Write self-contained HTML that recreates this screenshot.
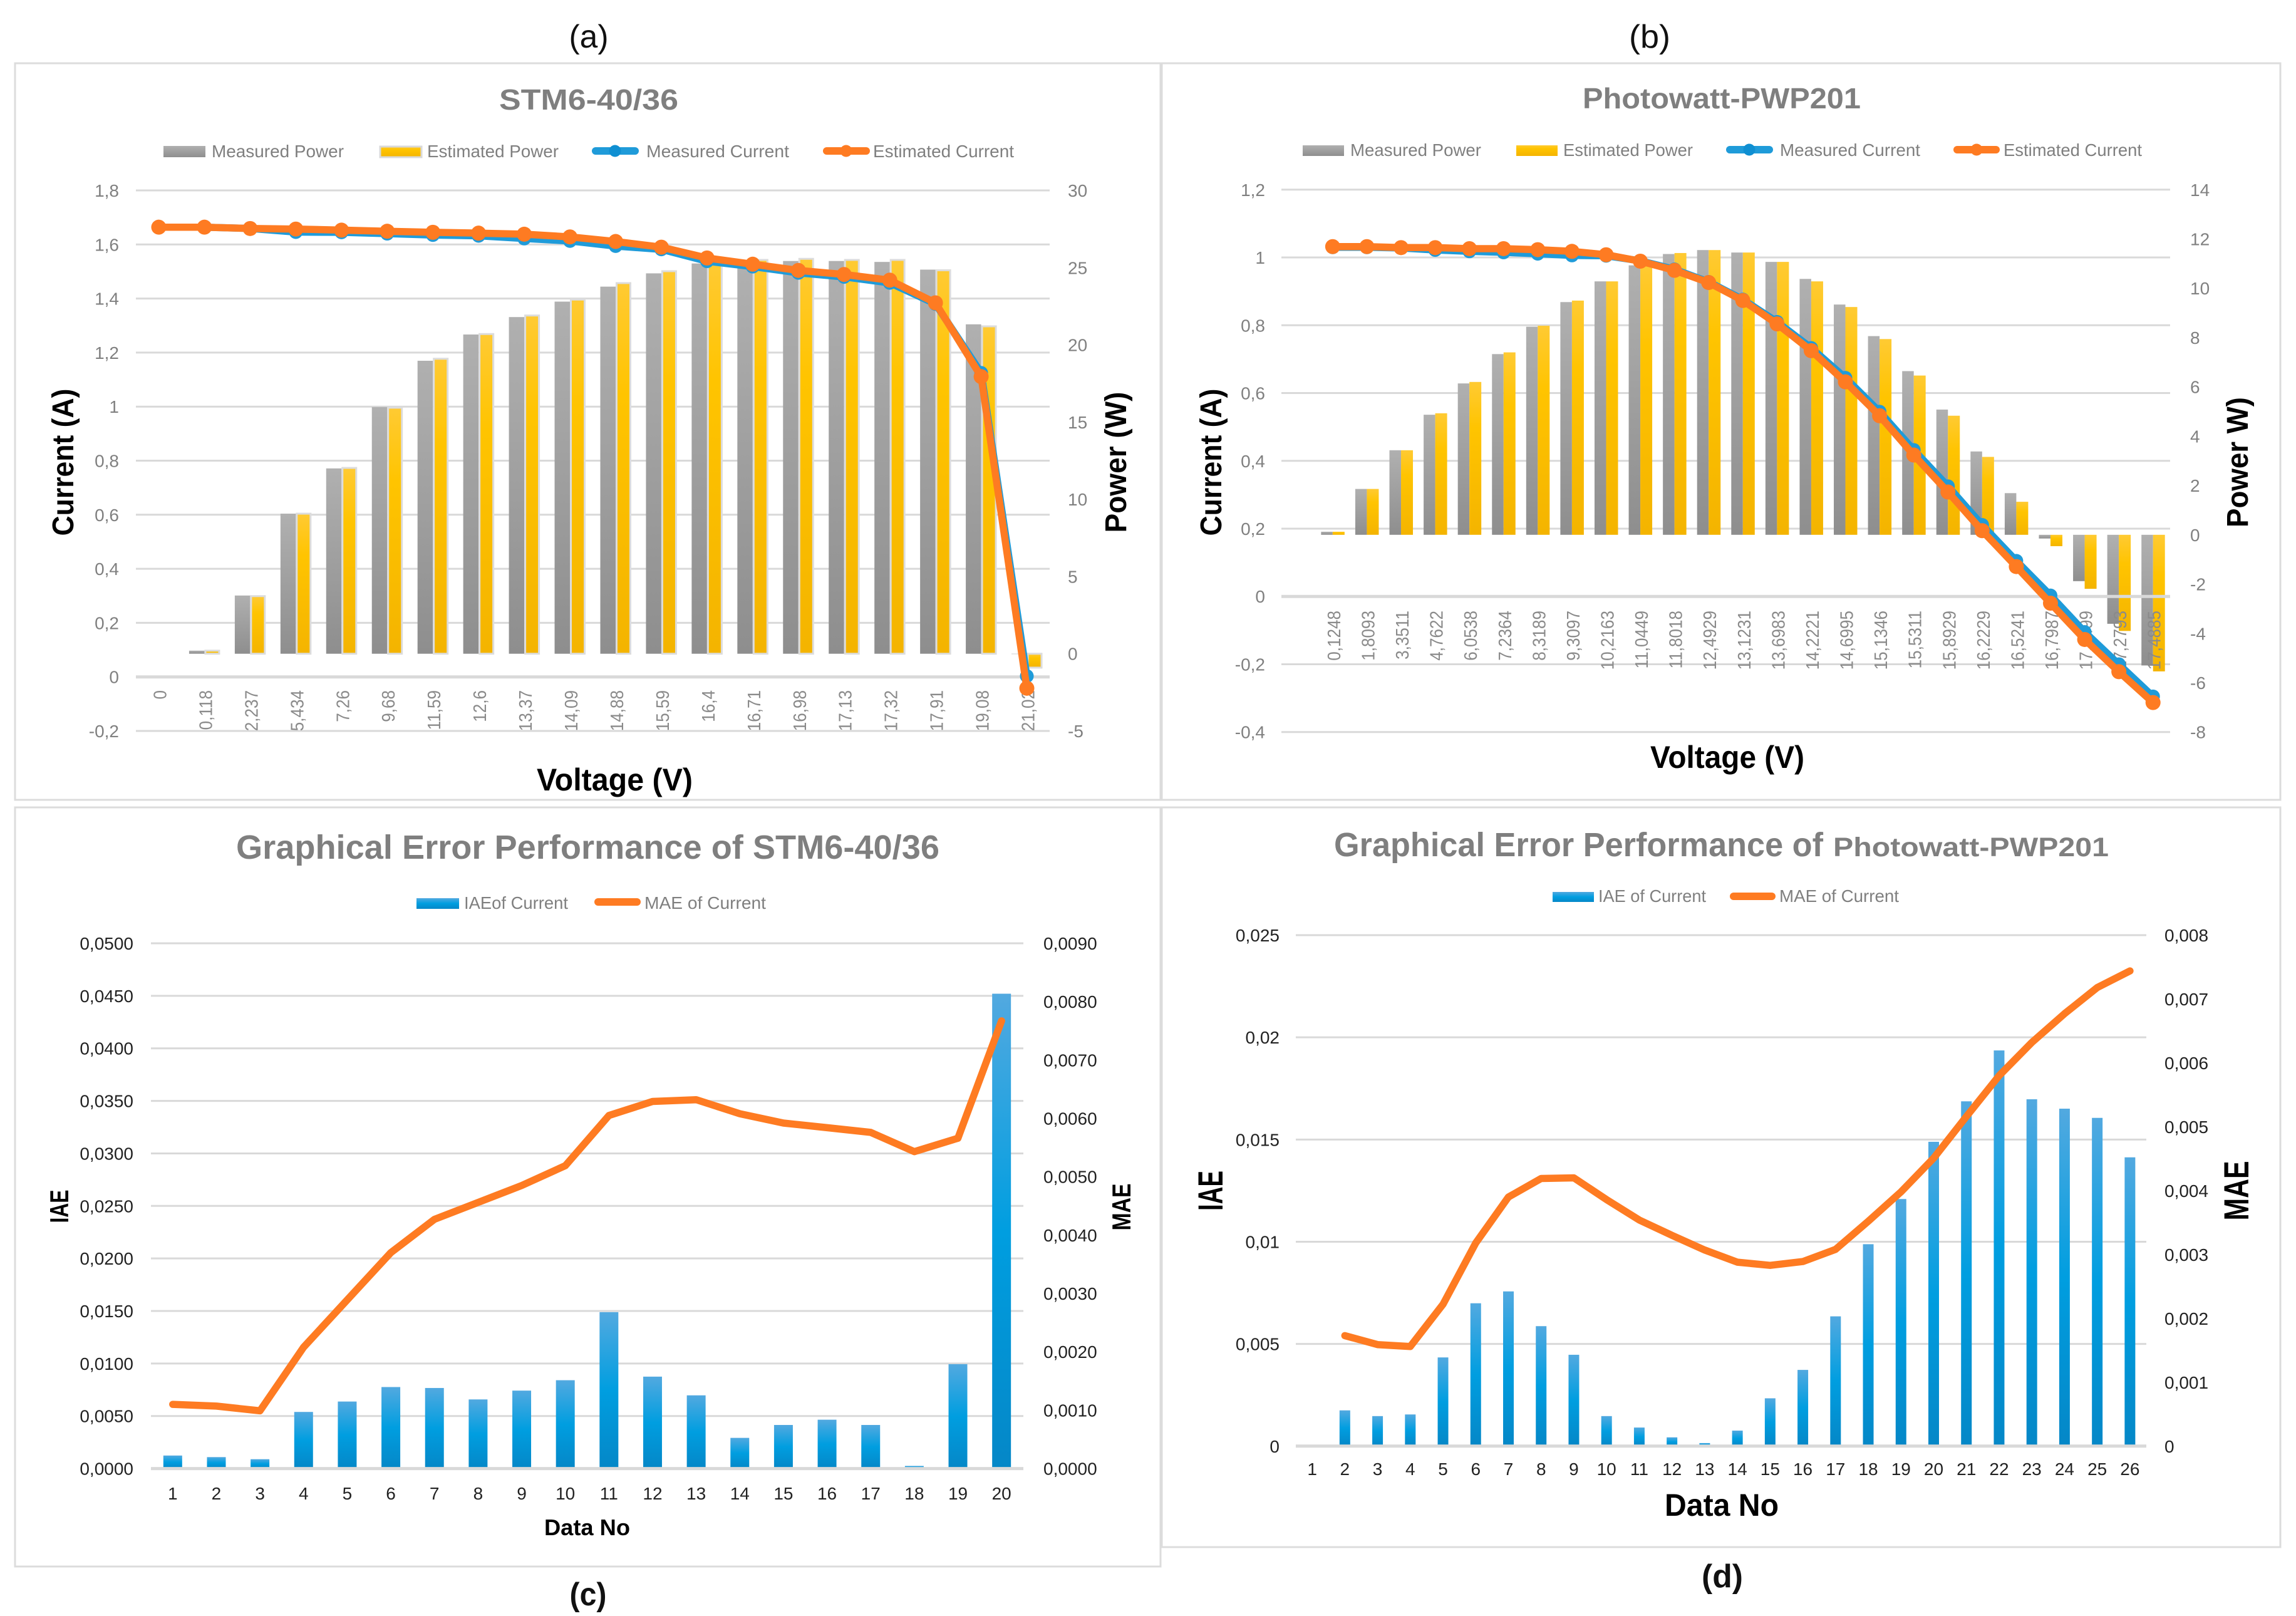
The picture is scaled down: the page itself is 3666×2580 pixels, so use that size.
<!DOCTYPE html>
<html lang="en">
<head>
<meta charset="utf-8">
<title>PV model error charts</title>
<style>
html,body{margin:0;padding:0;background:#fff;}
svg{display:block;font-family:"Liberation Sans",sans-serif;}
</style>
</head>
<body>
<svg id="figure" xmlns="http://www.w3.org/2000/svg" width="3666" height="2580" viewBox="0 0 3666 2580">
<defs>
  <linearGradient id="gGrey" x1="0" y1="0" x2="0" y2="1"><stop offset="0" stop-color="#b0b0b0"/><stop offset="1" stop-color="#8e8e8e"/></linearGradient>
  <linearGradient id="gYellow" x1="0" y1="0" x2="0" y2="1"><stop offset="0" stop-color="#ffca33"/><stop offset="0.3" stop-color="#ffc400"/><stop offset="1" stop-color="#f4b400"/></linearGradient>
  <linearGradient id="gBlue" x1="0" y1="0" x2="0" y2="1"><stop offset="0" stop-color="#52a9e0"/><stop offset="0.5" stop-color="#009ee0"/><stop offset="1" stop-color="#0587c7"/></linearGradient>
  <clipPath id="clipA"><rect x="217" y="1090" width="1459" height="78"/></clipPath>
</defs>
<rect width="3666" height="2580" fill="#fff"/>

<g id="panel-a">
  <rect x="24" y="101" width="1829" height="1176" fill="#fff" stroke="#dcdcdc" stroke-width="3"/>
</g>
<g id="panel-b">
  <rect x="1855" y="101" width="1786" height="1176" fill="#fff" stroke="#dcdcdc" stroke-width="3"/>
</g>
<g id="panel-c">
  <rect x="24" y="1289" width="1829" height="1212" fill="#fff" stroke="#dcdcdc" stroke-width="3"/>
</g>
<g id="panel-d">
  <rect x="1855" y="1289" width="1786" height="1181" fill="#fff" stroke="#dcdcdc" stroke-width="3"/>
</g>

<!-- captions -->
<text x="940" y="76" font-size="52" text-anchor="middle" fill="#111" textLength="63" lengthAdjust="spacingAndGlyphs">(a)</text>
<text x="2634" y="76" font-size="52" text-anchor="middle" fill="#111" textLength="66" lengthAdjust="spacingAndGlyphs">(b)</text>
<text x="939" y="2563" font-size="52" font-weight="700" text-anchor="middle" fill="#111" textLength="59" lengthAdjust="spacingAndGlyphs">(c)</text>
<text x="2750" y="2534" font-size="52" font-weight="700" text-anchor="middle" fill="#111" textLength="66" lengthAdjust="spacingAndGlyphs">(d)</text>

<!-- titles -->
<text x="797" y="175" font-size="46" font-weight="700" fill="#7f7f7f" textLength="286" lengthAdjust="spacingAndGlyphs">STM6-40/36</text>
<text x="2527" y="173" font-size="46" font-weight="700" fill="#7f7f7f" textLength="444" lengthAdjust="spacingAndGlyphs">Photowatt-PWP201</text>
<text x="377" y="1371" font-size="54" font-weight="700" fill="#7f7f7f" textLength="1123" lengthAdjust="spacingAndGlyphs">Graphical Error Performance of STM6-40/36</text>
<text x="2130" y="1367" font-size="54" font-weight="700" fill="#7f7f7f" textLength="781" lengthAdjust="spacingAndGlyphs">Graphical Error Performance of</text>
<text x="2927" y="1367" font-size="43" font-weight="700" fill="#7f7f7f" textLength="440" lengthAdjust="spacingAndGlyphs">Photowatt-PWP201</text>

<!-- axis titles -->
<text transform="translate(117,738) rotate(-90)" font-size="48" font-weight="700" text-anchor="middle" fill="#000" textLength="235" lengthAdjust="spacingAndGlyphs">Current (A)</text>
<text transform="translate(1798,738) rotate(-90)" font-size="48" font-weight="700" text-anchor="middle" fill="#000" textLength="225" lengthAdjust="spacingAndGlyphs">Power (W)</text>
<text x="857" y="1262" font-size="50" font-weight="700" fill="#000" textLength="249" lengthAdjust="spacingAndGlyphs">Voltage (V)</text>
<text transform="translate(1950,738) rotate(-90)" font-size="48" font-weight="700" text-anchor="middle" fill="#000" textLength="235" lengthAdjust="spacingAndGlyphs">Current (A)</text>
<text transform="translate(3589,738) rotate(-90)" font-size="48" font-weight="700" text-anchor="middle" fill="#000" textLength="208" lengthAdjust="spacingAndGlyphs">Power W)</text>
<text x="2635" y="1226" font-size="50" font-weight="700" fill="#000" textLength="246" lengthAdjust="spacingAndGlyphs">Voltage (V)</text>
<text transform="translate(109,1926) rotate(-90)" font-size="42" font-weight="700" text-anchor="middle" fill="#000" textLength="53" lengthAdjust="spacingAndGlyphs">IAE</text>
<text transform="translate(1805,1927) rotate(-90)" font-size="42" font-weight="700" text-anchor="middle" fill="#000" textLength="75" lengthAdjust="spacingAndGlyphs">MAE</text>
<text x="869" y="2451" font-size="36" font-weight="700" fill="#000" textLength="137" lengthAdjust="spacingAndGlyphs">Data No</text>
<text transform="translate(1952,1901) rotate(-90)" font-size="56" font-weight="700" text-anchor="middle" fill="#000" textLength="64" lengthAdjust="spacingAndGlyphs">IAE</text>
<text transform="translate(3590,1901) rotate(-90)" font-size="56" font-weight="700" text-anchor="middle" fill="#000" textLength="95" lengthAdjust="spacingAndGlyphs">MAE</text>
<text x="2658" y="2420" font-size="50" font-weight="700" fill="#000" textLength="182" lengthAdjust="spacingAndGlyphs">Data No</text>

<!-- legend a -->
<g font-size="28" fill="#7f7f7f">
  <rect x="261" y="233" width="67" height="18" fill="url(#gGrey)"/>
  <text x="338" y="251" textLength="211" lengthAdjust="spacingAndGlyphs">Measured Power</text>
  <rect x="607" y="234" width="66" height="17" fill="url(#gYellow)" stroke="#d9d9d9" stroke-width="3"/>
  <text x="682" y="251" textLength="210" lengthAdjust="spacingAndGlyphs">Estimated Power</text>
  <line x1="951" y1="241" x2="1014" y2="241" stroke="#1f9bd9" stroke-width="12" stroke-linecap="round"/>
  <circle cx="982" cy="241" r="9.5" fill="#0f8fd2"/>
  <text x="1032" y="251" textLength="228" lengthAdjust="spacingAndGlyphs">Measured Current</text>
  <line x1="1320" y1="241" x2="1383" y2="241" stroke="#fe7b22" stroke-width="12" stroke-linecap="round"/>
  <circle cx="1351" cy="241" r="9.5" fill="#fe7b22"/>
  <text x="1394" y="251" textLength="225" lengthAdjust="spacingAndGlyphs">Estimated Current</text>
</g>
<!-- legend b -->
<g font-size="28" fill="#7f7f7f">
  <rect x="2080" y="232" width="66" height="17" fill="url(#gGrey)"/>
  <text x="2156" y="249" textLength="209" lengthAdjust="spacingAndGlyphs">Measured Power</text>
  <rect x="2421" y="232" width="66" height="17" fill="url(#gYellow)"/>
  <text x="2496" y="249" textLength="207" lengthAdjust="spacingAndGlyphs">Estimated Power</text>
  <line x1="2762" y1="239" x2="2825" y2="239" stroke="#1f9bd9" stroke-width="12" stroke-linecap="round"/>
  <circle cx="2793" cy="239" r="9.5" fill="#0f8fd2"/>
  <text x="2842" y="249" textLength="224" lengthAdjust="spacingAndGlyphs">Measured Current</text>
  <line x1="3125" y1="239" x2="3187" y2="239" stroke="#fe7b22" stroke-width="12" stroke-linecap="round"/>
  <circle cx="3156" cy="239" r="9.5" fill="#fe7b22"/>
  <text x="3199" y="249" textLength="221" lengthAdjust="spacingAndGlyphs">Estimated Current</text>
</g>
<!-- legend c -->
<g font-size="28" fill="#7f7f7f">
  <rect x="665" y="1434" width="68" height="17" fill="url(#gBlue)"/>
  <text x="741" y="1451" textLength="166" lengthAdjust="spacingAndGlyphs">IAEof Current</text>
  <line x1="955" y1="1440" x2="1017" y2="1440" stroke="#fe7b22" stroke-width="12" stroke-linecap="round"/>
  <text x="1029" y="1451" textLength="194" lengthAdjust="spacingAndGlyphs">MAE of Current</text>
</g>
<!-- legend d -->
<g font-size="28" fill="#7f7f7f">
  <rect x="2479" y="1424" width="66" height="16" fill="url(#gBlue)"/>
  <text x="2552" y="1440" textLength="172" lengthAdjust="spacingAndGlyphs">IAE of Current</text>
  <line x1="2768" y1="1431" x2="2829" y2="1431" stroke="#fe7b22" stroke-width="12" stroke-linecap="round"/>
  <text x="2841" y="1440" textLength="191" lengthAdjust="spacingAndGlyphs">MAE of Current</text>
</g>

<g id="plots"></g>
</svg>

<script>
// ---- Chart (a) STM6-40/36 ----
const aCategories = ['0','0,118','2,237','5,434','7,26','9,68','11,59','12,6','13,37','14,09','14,88','15,59','16,4','16,71','16,98','17,13','17,32','17,91','19,08','21,02'];
const aMeasuredPower = [0,0.2,3.77,9.07,12,15.97,18.97,20.67,21.8,22.8,23.77,24.63,25.27,25.07,25.43,25.43,25.37,24.87,21.33,-0.02];
const aEstimatedPower = [0,0.2,3.73,9.07,12.03,15.93,19.1,20.7,21.9,22.93,24,24.77,25.3,25.5,25.57,25.5,25.5,24.83,21.2,-0.9];
const aMeasuredCurrent = [1.664,1.664,1.659,1.646,1.645,1.64,1.635,1.632,1.622,1.613,1.594,1.582,1.538,1.518,1.495,1.48,1.458,1.38,1.125,0.003];
const aEstimatedCurrent = [1.664,1.664,1.659,1.657,1.653,1.649,1.645,1.642,1.638,1.628,1.611,1.59,1.55,1.527,1.504,1.489,1.468,1.384,1.111,-0.042];
const aLeftTicks = ['-0,2','0','0,2','0,4','0,6','0,8','1','1,2','1,4','1,6','1,8'];
const aRightTicks = ['-5','0','5','10','15','20','25','30'];

// ---- Chart (b) Photowatt-PWP201 ----
const bCategories = ['','0,1248','1,8093','3,3511','4,7622','6,0538','7,2364','8,3189','9,3097','10,2163','11,0449','11,8018','12,4929','13,1231','13,6983','14,2221','14,6995','15,1346','15,5311','15,8929','16,2229','16,5241','16,7987','17,0499','17,2793','17,4885'];
const bMeasuredPower = [null,0.125,1.86,3.43,4.87,6.14,7.33,8.44,9.44,10.28,10.93,11.39,11.55,11.45,11.07,10.38,9.34,8.06,6.64,5.08,3.38,1.69,-0.15,-1.88,-3.61,-5.3];
const bEstimatedPower = [null,0.125,1.86,3.43,4.93,6.2,7.4,8.48,9.5,10.28,10.93,11.43,11.55,11.45,11.07,10.28,9.24,7.94,6.46,4.83,3.16,1.34,-0.46,-2.19,-3.9,-5.54];
const bMeasuredCurrent = [null,1.03,1.03,1.028,1.022,1.018,1.015,1.011,1.006,1.005,0.99,0.965,0.928,0.876,0.81,0.733,0.645,0.545,0.432,0.325,0.211,0.105,0.003,-0.105,-0.2,-0.295];
const bEstimatedCurrent = [null,1.032,1.032,1.029,1.029,1.026,1.026,1.023,1.018,1.008,0.989,0.962,0.926,0.873,0.804,0.725,0.633,0.533,0.417,0.308,0.194,0.088,-0.02,-0.127,-0.222,-0.313];
const bLeftTicks = ['-0,4','-0,2','0','0,2','0,4','0,6','0,8','1','1,2'];
const bRightTicks = ['-8','-6','-4','-2','0','2','4','6','8','10','12','14'];

// ---- Chart (c) error of STM6-40/36 ----
const cCategories = ['1','2','3','4','5','6','7','8','9','10','11','12','13','14','15','16','17','18','19','20'];
const cIae = [0.00124,0.00109,0.00089,0.00539,0.00638,0.00776,0.00767,0.00658,0.00742,0.00841,0.01489,0.00875,0.00697,0.00292,0.00415,0.00465,0.00415,0.00025,0.00994,0.0452];
const cMae = [0.0011,0.00107,0.00099,0.00208,0.00289,0.0037,0.00427,0.00456,0.00485,0.00519,0.00605,0.00629,0.00632,0.00608,0.00592,0.00584,0.00576,0.00543,0.00566,0.00767];
const cLeftTicks = ['0,0000','0,0050','0,0100','0,0150','0,0200','0,0250','0,0300','0,0350','0,0400','0,0450','0,0500'];
const cRightTicks = ['0,0000','0,0010','0,0020','0,0030','0,0040','0,0050','0,0060','0,0070','0,0080','0,0090'];

// ---- Chart (d) error of Photowatt-PWP201 ----
const dCategories = ['1','2','3','4','5','6','7','8','9','10','11','12','13','14','15','16','17','18','19','20','21','22','23','24','25','26'];
const dIae = [null,0.00175,0.00147,0.00155,0.00434,0.00699,0.00757,0.00587,0.00447,0.00147,0.00091,0.00043,0.00015,0.00076,0.00234,0.00373,0.00635,0.00988,0.01209,0.01489,0.01687,0.01936,0.01697,0.01651,0.01606,0.01413];
const dMae = [null,0.00173,0.00159,0.00156,0.00222,0.00318,0.0039,0.00419,0.0042,0.00386,0.00354,0.0033,0.00307,0.00288,0.00283,0.00289,0.00308,0.00352,0.00398,0.00451,0.00516,0.0058,0.00632,0.00677,0.00718,0.00744];
const dLeftTicks = ['0','0,005','0,01','0,015','0,02','0,025'];
const dRightTicks = ['0','0,001','0,002','0,003','0,004','0,005','0,006','0,007','0,008'];

const NS = 'http://www.w3.org/2000/svg';
const plots = document.getElementById('plots');

function mk(tag, attrs, parent) {
  const el = document.createElementNS(NS, tag);
  for (const k in attrs) el.setAttribute(k, attrs[k]);
  parent.appendChild(el);
  return el;
}
function num(label) { return parseFloat(label.replace(',', '.')); }
function linear(d0, d1, r0, r1) { return function (v) { return r0 + (v - d0) * (r1 - r0) / (d1 - d0); }; }
function bandCenter(left, right, n) { return function (i) { return left + (right - left) * (i + 0.5) / n; }; }

function drawGrid(labels, y, left, right) {
  labels.forEach(function (lab) {
    if (num(lab) === 0) return;
    const ln = mk('line', {x1: left, x2: right, y1: y(num(lab)), y2: y(num(lab)), stroke: '#d9d9d9', 'stroke-width': 3}, plots);
    
    
  });
}
function drawZeroLine(y, left, right) {
  const ln = mk('line', {x1: left, x2: right, y1: y(0), y2: y(0), stroke: '#d9d9d9', 'stroke-width': 5}, plots);
  
  
}
function drawYTicks(labels, y, x, anchor, fill, size) {
  labels.forEach(function (lab) {
    const t = mk('text', {x: x, y: y(num(lab)) + 10, 'text-anchor': anchor, fill: fill, 'font-size': size}, plots);
    t.textContent = lab;
    
    
  });
}
function drawBars(values, cx, y, zero, offset, width, fill, border) {
  values.forEach(function (v, i) {
    if (v === null) return;
    const top = Math.min(y(v), zero), h = Math.abs(y(v) - zero);
    const r = mk('rect', {x: cx(i) + offset, y: top, width: width, height: h, fill: fill}, plots);
    if (border) {
      r.setAttribute('stroke', border);
      r.setAttribute('stroke-width', '3');
    }
    
    
  });
}
function drawRotatedCategories(labels, cx, top, clip) {
  const g = mk('g', clip ? {'clip-path': clip} : {}, plots);
  
  
  labels.forEach(function (lab, i) {
    if (!lab) return;
    const t = mk('text', {transform: 'translate(' + (cx(i) + 12) + ',' + top + ') rotate(-90) scale(0.9,1)', 'text-anchor': 'end', fill: '#8a8a8a', 'font-size': 29}, g);
    t.textContent = lab;
    
    
  });
}
function drawFlatCategories(labels, cx, base) {
  labels.forEach(function (lab, i) {
    const t = mk('text', {x: cx(i), y: base, 'text-anchor': 'middle', fill: '#222', 'font-size': 28}, plots);
    t.textContent = lab;
    
    
  });
}
function drawLine(values, cx, y, color, r) {
  const pts = [];
  values.forEach(function (v, i) { if (v !== null) pts.push(cx(i).toFixed(1) + ',' + y(v).toFixed(1)); });
  const p = mk('polyline', {points: pts.join(' '), fill: 'none', stroke: color, 'stroke-width': 11.5, 'stroke-linejoin': 'round', 'stroke-linecap': 'round'}, plots);
  
  
  if (!r) return;
  values.forEach(function (v, i) {
    if (v === null) return;
    const c = mk('circle', {cx: cx(i), cy: y(v), r: r, fill: color}, plots);
    
    
  });
}

const GREY = 'url(#gGrey)', YELLOW = 'url(#gYellow)', BLUEBAR = 'url(#gBlue)';
const BLUE = '#1f9bd9', ORANGE = '#fe7b22', TICKGREY = '#808080', TICKDARK = '#222';

// draw (a)
(function () {
  const L = 217, R = 1676;
  const x = bandCenter(L, R, aCategories.length);
  const yL = linear(-0.2, 1.8, 1167, 304), yR = linear(-5, 30, 1167, 304);
  drawGrid(aLeftTicks, yL, L, R);
  drawBars(aMeasuredPower, x, yR, yR(0), -24.5, 24.5, GREY);
  drawBars(aEstimatedPower, x, yR, yR(0), 1.5, 22, YELLOW, '#dcdcdc');
  drawZeroLine(yL, L, R);
  drawRotatedCategories(aCategories, x, 1102, 'url(#clipA)');
  drawYTicks(aLeftTicks, yL, 190, 'end', TICKGREY, 28);
  drawYTicks(aRightTicks, yR, 1705, 'start', TICKGREY, 28);
  drawLine(aMeasuredCurrent, x, yL, BLUE, 11);
  drawLine(aEstimatedCurrent, x, yL, ORANGE, 12);
})();

// draw (b)
(function () {
  const L = 2046, R = 3465;
  const x = bandCenter(L, R, bCategories.length);
  const yL = linear(-0.4, 1.2, 1168.7, 302.8), yR = linear(-8, 14, 1168.7, 302.8);
  drawGrid(bLeftTicks, yL, L, R);
  drawBars(bMeasuredPower, x, yR, yR(0), -18.5, 18.5, GREY);
  drawBars(bEstimatedPower, x, yR, yR(0), 0, 19, YELLOW);
  drawZeroLine(yL, L, R);
  drawRotatedCategories(bCategories, x, 975);
  drawYTicks(bLeftTicks, yL, 2020, 'end', TICKGREY, 28);
  drawYTicks(bRightTicks, yR, 3497, 'start', TICKGREY, 28);
  drawLine(bMeasuredCurrent, x, yL, BLUE, 11);
  drawLine(bEstimatedCurrent, x, yL, ORANGE, 12);
})();

// draw (c)
(function () {
  const L = 241, R = 1634;
  const x = bandCenter(L, R, cCategories.length);
  const yL = linear(0, 0.05, 2344.6, 1506), yR = linear(0, 0.009, 2344.6, 1506);
  drawGrid(cLeftTicks, yL, L, R);
  drawBars(cIae, x, yL, yL(0), -15, 30, BLUEBAR);
  drawZeroLine(yL, L, R);
  drawFlatCategories(cCategories, x, 2394);
  drawYTicks(cLeftTicks, yL, 213, 'end', TICKDARK, 28);
  drawYTicks(cRightTicks, yR, 1666, 'start', TICKDARK, 28);
  drawLine(cMae, x, yR, ORANGE, 0);
})();

// draw (d)
(function () {
  const L = 2069, R = 3427;
  const x = bandCenter(L, R, dCategories.length);
  const yL = linear(0, 0.025, 2308.8, 1493), yR = linear(0, 0.008, 2308.8, 1493);
  drawGrid(dLeftTicks, yL, L, R);
  drawBars(dIae, x, yL, yL(0), -8.5, 17, BLUEBAR);
  drawZeroLine(yL, L, R);
  drawFlatCategories(dCategories, x, 2355);
  drawYTicks(dLeftTicks, yL, 2043, 'end', TICKDARK, 28);
  drawYTicks(dRightTicks, yR, 3456, 'start', TICKDARK, 28);
  drawLine(dMae, x, yR, ORANGE, 0);
})();
</script>
</body>
</html>
